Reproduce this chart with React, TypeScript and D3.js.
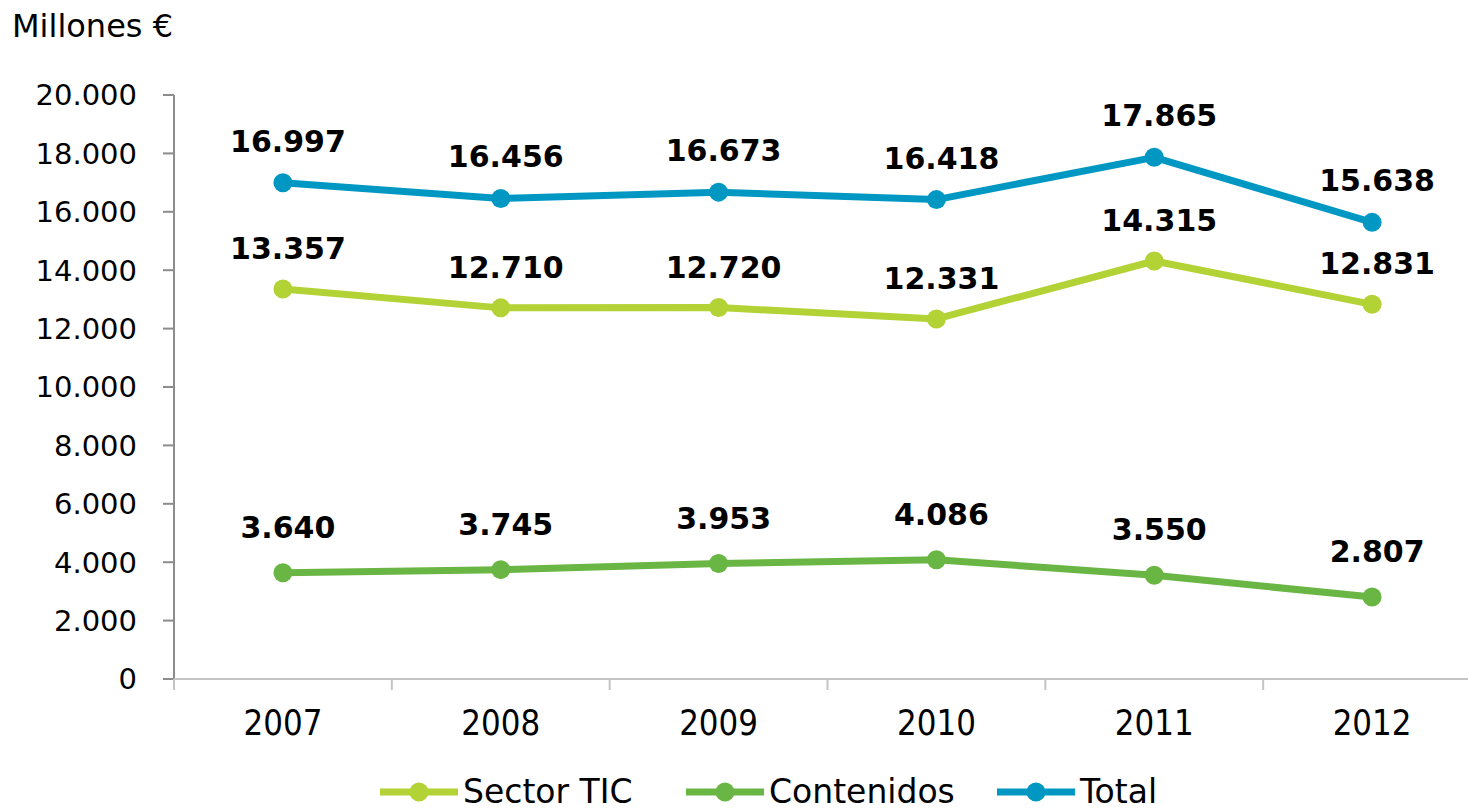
import React, { useEffect, useRef } from 'react';
import * as d3 from 'd3';

const years = ['2007', '2008', '2009', '2010', '2011', '2012'];
const sectorTic = [13357, 12710, 12720, 12331, 14315, 12831];
const contenidos = [3640, 3745, 3953, 4086, 3550, 2807];
const total = [16997, 16456, 16673, 16418, 17865, 15638];
const yTicks = [0, 2000, 4000, 6000, 8000, 10000, 12000, 14000, 16000, 18000, 20000];

const series = [
  { name: 'Sector TIC', values: sectorTic, color: '#b2d235', labelGap: 30 },
  { name: 'Contenidos', values: contenidos, color: '#6ab645', labelGap: 35 },
  { name: 'Total', values: total, color: '#0098c3', labelGap: 31 },
];

const fmt = (v: number) => d3.format(',')(v).replace(/,/g, '.');

const App = () => {
  const ref = useRef<SVGSVGElement>(null);

  useEffect(() => {
    document.body.style.margin = '0';
    const width = 1468;
    const height = 811;
    const font = '"DejaVu Sans", Verdana, sans-serif';

    const svg = d3.select(ref.current);
    svg.selectAll('*').remove();
    svg.attr('width', width).attr('height', height).style('font-family', font);

    const x = d3.scaleBand().domain(years).range([174, 1481]);
    const y = d3.scaleLinear().domain([0, 20000]).range([679, 95]);

    // eje Y
    svg.append('line')
      .attr('x1', 174).attr('x2', 174)
      .attr('y1', y(20000)).attr('y2', y(0))
      .attr('stroke', '#8c8c8c').attr('stroke-width', 2);

    yTicks.forEach(t => {
      svg.append('line')
        .attr('x1', 163).attr('x2', 174)
        .attr('y1', y(t)).attr('y2', y(t))
        .attr('stroke', '#8c8c8c').attr('stroke-width', 2);
      svg.append('text')
        .attr('x', 137).attr('y', y(t))
        .attr('dy', '0.36em')
        .attr('text-anchor', 'end')
        .style('font-size', '29px')
        .text(fmt(t));
    });

    // eje X
    svg.append('line')
      .attr('x1', 174).attr('x2', 1481)
      .attr('y1', y(0)).attr('y2', y(0))
      .attr('stroke', '#c4c4c4').attr('stroke-width', 2);

    const bounds = years.map(d => x(d)!).concat([x(years[years.length - 1])! + x.bandwidth()]);
    bounds.forEach(b => {
      svg.append('line')
        .attr('x1', b).attr('x2', b)
        .attr('y1', y(0)).attr('y2', y(0) + 11)
        .attr('stroke', '#c4c4c4').attr('stroke-width', 2);
    });

    years.forEach(yr => {
      const cx = x(yr)! + x.bandwidth() / 2;
      svg.append('text')
        .attr('transform', `translate(${cx},735) scale(1,1.16)`)
        .attr('text-anchor', 'middle')
        .style('font-size', '31px')
        .text(yr);
    });

    // título
    svg.append('text')
      .attr('x', 12).attr('y', 37)
      .style('font-size', '32px')
      .text('Millones €');

    // series
    const line = d3.line<number>()
      .x((_, i) => x(years[i])! + x.bandwidth() / 2)
      .y(d => y(d));

    series.forEach(s => {
      svg.append('path')
        .attr('d', line(s.values))
        .attr('fill', 'none')
        .attr('stroke', s.color)
        .attr('stroke-width', 7)
        .attr('stroke-linejoin', 'round');

      s.values.forEach((v, i) => {
        const cx = x(years[i])! + x.bandwidth() / 2;
        svg.append('circle')
          .attr('cx', cx).attr('cy', y(v))
          .attr('r', 9.5)
          .attr('fill', s.color);
        svg.append('text')
          .attr('x', cx + 5).attr('y', y(v) - s.labelGap)
          .attr('text-anchor', 'middle')
          .style('font-size', '30px')
          .style('font-weight', 'bold')
          .text(fmt(v));
      });
    });

    // leyenda
    const legendX = [380, 686, 997];
    series.forEach((s, i) => {
      const g = svg.append('g').attr('transform', `translate(${legendX[i]},792)`);
      g.append('line')
        .attr('x1', 0).attr('x2', 78)
        .attr('stroke', s.color).attr('stroke-width', 7);
      g.append('circle').attr('cx', 39).attr('r', 9.5).attr('fill', s.color);
      g.append('text')
        .attr('transform', 'translate(83,11)')
        .style('font-size', '33px')
        .text(s.name);
    });
  }, []);

  return <svg ref={ref} style={{ display: 'block' }}></svg>;
};

export default App;
